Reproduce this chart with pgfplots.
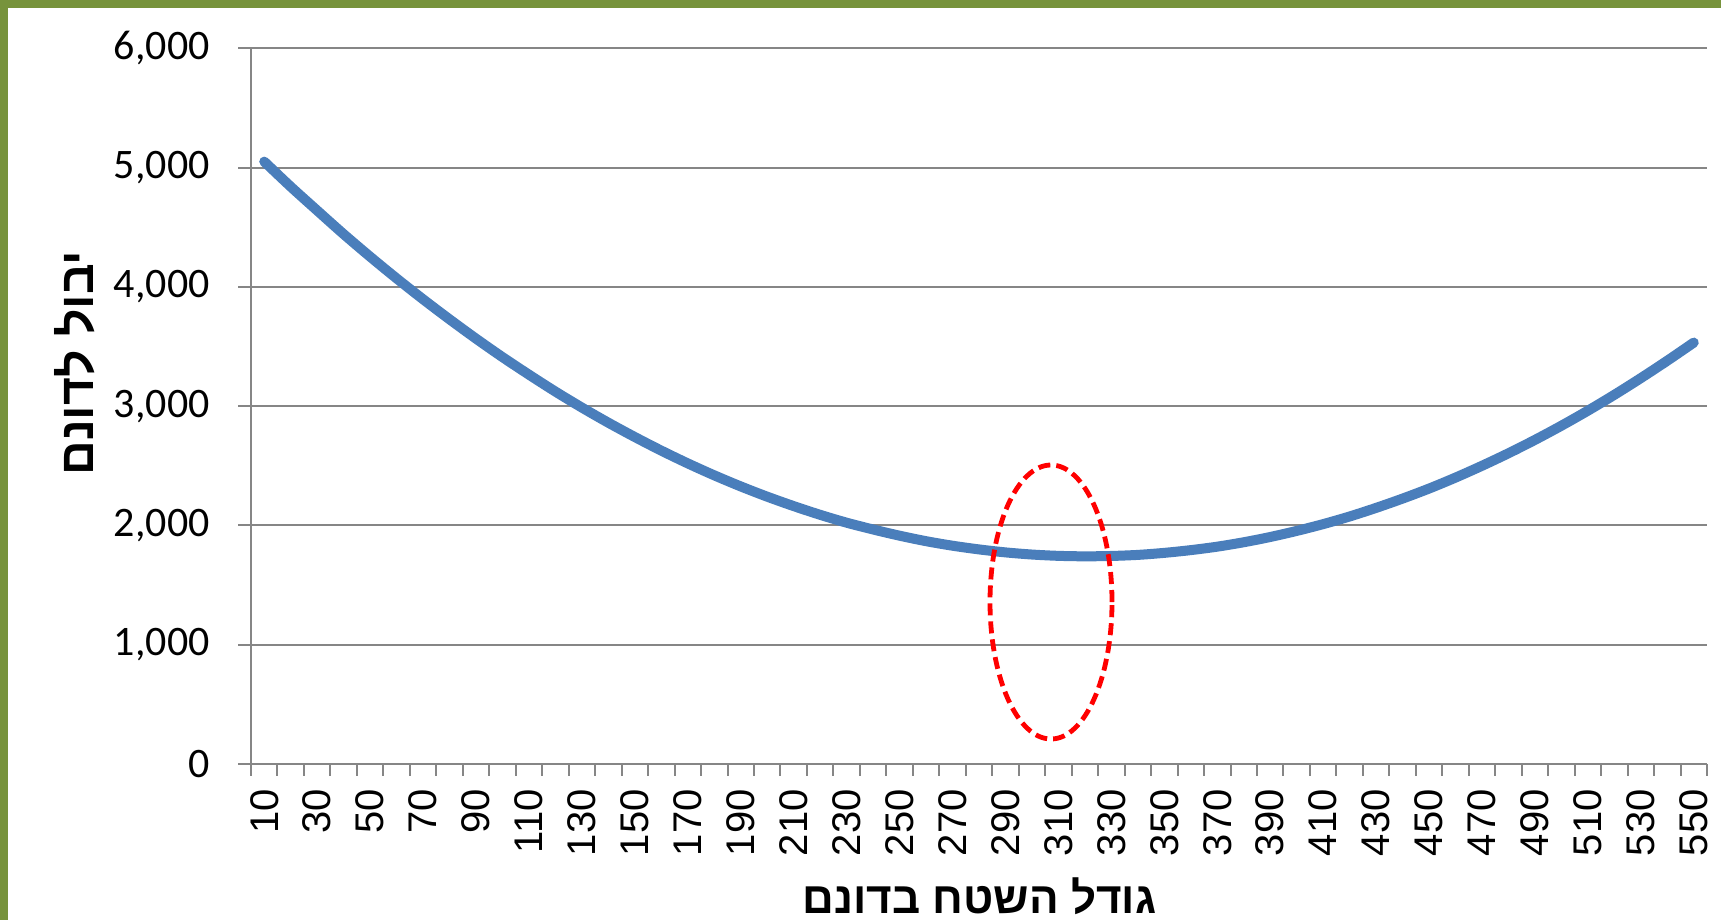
\documentclass[border=0pt]{standalone}
\usepackage{fontspec}
\setmainfont{Carlito}
\newfontfamily\arialfont{Liberation Sans}
\newfontfamily\hebfont[Script=Hebrew]{Liberation Sans}
\TeXXeTstate=1
\usepackage{pgfplots}
\pgfplotsset{compat=1.18}
\definecolor{gridgray}{HTML}{868686}
\definecolor{curveblue}{HTML}{4A7EBB}
\definecolor{framegreen}{HTML}{77933C}
\pgfplotstableread{
x y
10 5050
20 4840
30 4640
40 4442
50 4253
60 4071
70 3896
80 3728
90 3566
100 3411
110 3264
120 3122
130 2988
140 2861
150 2741
160 2627
170 2520
180 2420
190 2327
200 2241
210 2162
220 2089
230 2023
240 1966
250 1914
260 1868
270 1830
280 1799
290 1774
300 1756
310 1745
320 1741
330 1744
340 1753
350 1770
360 1793
370 1822
380 1859
390 1903
400 1954
410 2011
420 2075
430 2147
440 2225
450 2309
460 2401
470 2500
480 2605
490 2717
500 2836
510 2962
520 3095
530 3235
540 3381
550 3533
}\datatable
\begin{document}
\begin{tikzpicture}
\path[use as bounding box] (0,0) rectangle (860.5bp,460bp);
\fill[framegreen] (0,0) rectangle (3.75bp,460bp);
\fill[framegreen] (0,456bp) rectangle (860.5bp,460bp);
\begin{axis}[
  at={(125.5bp,78bp)}, anchor=south west,
  scale only axis, width=728bp, height=357.85bp,
  xmin=5, xmax=555, ymin=0, ymax=6000,
  axis x line*=bottom, axis y line*=left,
  axis line style={draw=gridgray, line width=1bp},
  tick align=outside,
  tick style={draw=gridgray, line width=1bp},
  xtick={10,30,...,550},
  minor xtick={5,15,...,555},
  major tick length=6.5bp,
  minor tick length=6bp,
  major x tick style={draw=none},
  xticklabel style={font=\arialfont\fontsize{20bp}{23bp}\selectfont, rotate=90, anchor=east, inner sep=0pt},
  xticklabel shift=6bp,
  ytick={0,1000,...,6000},
  yticklabel style={font=\fontsize{21bp}{25bp}\selectfont, anchor=east, inner sep=0pt},
  yticklabel shift=14bp,
  /pgf/number format/.cd, 1000 sep={,}, assume math mode=true,
  /pgfplots/.cd,
  ymajorgrids,
  major grid style={draw=gridgray, line width=1bp},
  clip=false,
]
\addplot[curveblue, line width=5bp, line cap=round, line join=round, smooth] table[x=x,y=y] {\datatable};
\draw[red, line width=2.4bp, dash pattern=on 6bp off 3bp] (axis cs:307.2,1358) ellipse [x radius=30.5bp, y radius=68.5bp];
\end{axis}
\node[anchor=base, inner sep=0pt, font=\hebfont\bfseries\fontsize{22bp}{26bp}\selectfont] at (489.8bp,3.2bp) {\beginR גודל השטח בדונם\endR};
\node[rotate=90, anchor=center, inner sep=0pt, font=\hebfont\bfseries\fontsize{24bp}{28bp}\selectfont] at (37.5bp,278.5bp) {\beginR יבול לדונם\endR};
\end{tikzpicture}
\end{document}
